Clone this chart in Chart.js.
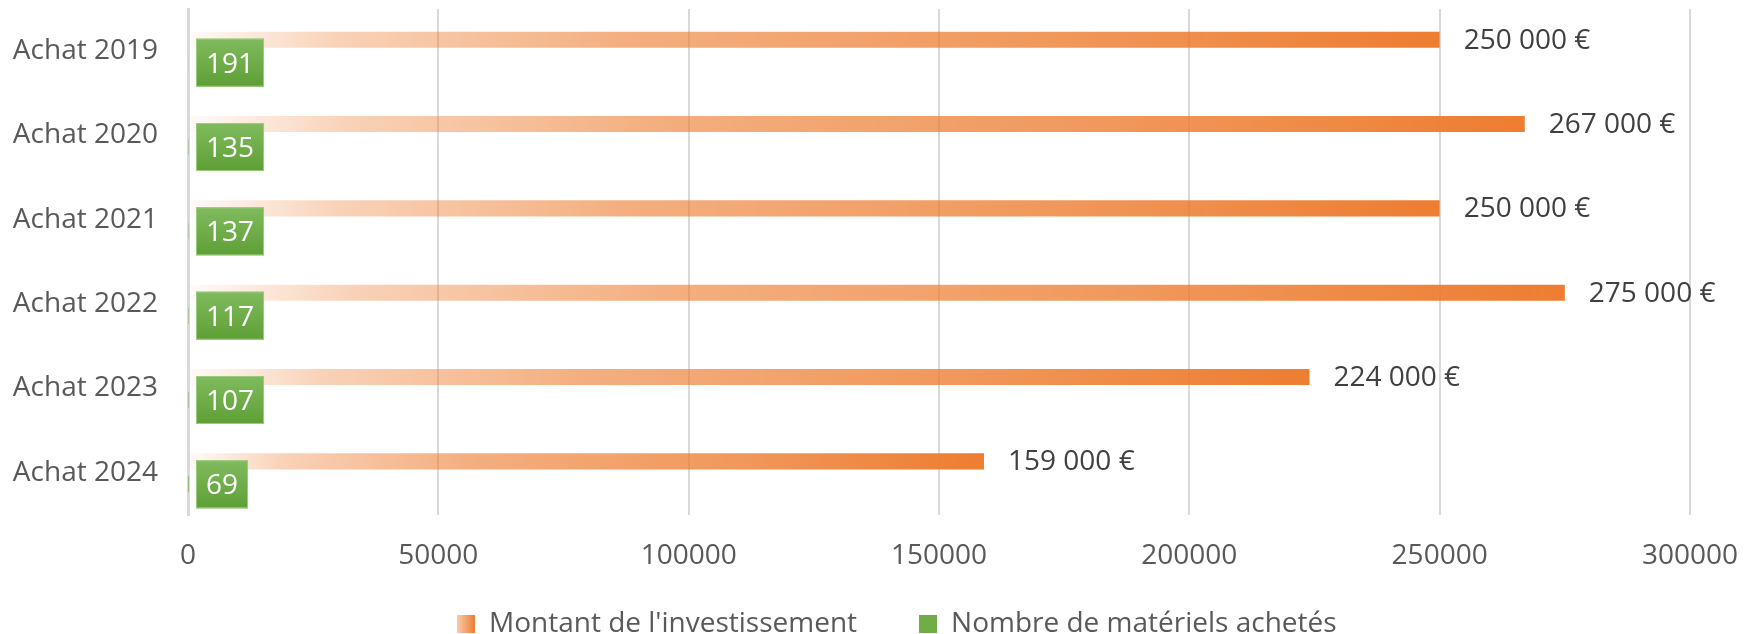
<!DOCTYPE html>
<html>
<head>
<meta charset="utf-8">
<script src="https://cdn.jsdelivr.net/npm/chart.js@4"></script>
<style>
  html, body { margin: 0; padding: 0; background: #fff; }
  #wrap { width: 1762px; height: 634px; }
</style>
</head>
<body>
<div id="wrap"><canvas id="chart" width="1762" height="634"></canvas></div>
<script>
// ===== DATA =====
const categories = ['Achat 2019', 'Achat 2020', 'Achat 2021', 'Achat 2022', 'Achat 2023', 'Achat 2024'];
const montants = [250000, 267000, 250000, 275000, 224000, 159000];
const materiels = [191, 135, 137, 117, 107, 69];
const xTicks = [0, 50000, 100000, 150000, 200000, 250000, 300000];
const seriesNames = ["Montant de l'investissement", 'Nombre de matériels achetés'];

const FONT = "'Open Sans', 'Noto Sans', sans-serif";
const ORANGE = '#ED7D31';
const GREEN = '#70AD47';
const LEGEND_PAD = 62;

// "250 000 €"
function formatEuro(v) {
  return String(v).replace(/\B(?=(\d{3})+(?!\d))/g, ' ') + ' €';
}

// per-bar gradient, fading in from the axis
function orangeFill(context) {
  const chart = context.chart;
  if (context.type !== 'data' || !chart.chartArea) return '#F2A474';
  const xs = chart.scales.x;
  const x0 = xs.getPixelForValue(0);
  const x1 = xs.getPixelForValue(context.raw);
  const g = chart.ctx.createLinearGradient(x0, 0, x1, 0);
  g.addColorStop(0, 'rgba(237,125,49,0.03)');
  g.addColorStop(0.12, 'rgba(237,125,49,0.35)');
  g.addColorStop(0.35, 'rgba(237,125,49,0.62)');
  g.addColorStop(0.7, 'rgba(237,125,49,0.8)');
  g.addColorStop(1, 'rgba(237,125,49,1)');
  return g;
}

// ===== LABELS PLUGIN =====
const labelsPlugin = {
  id: 'barLabels',
  beforeLayout(chart) {
    // keep the legend box short so the plot keeps its height
    const lg = chart.legend;
    if (lg && !lg._shortFit) {
      const fit = lg.fit;
      lg.fit = function() { fit.call(this); this.height = 59; };
      lg._shortFit = true;
    }
  },
  beforeDraw(chart) {
    const lg = chart.legend;
    if (!lg || !lg.legendItems) return;
    // place the legend row like the original
    lg.left = 457 - LEGEND_PAD;
    lg.top = 610 - LEGEND_PAD;
    const x0 = lg.left + LEGEND_PAD;
    const g = chart.ctx.createLinearGradient(x0, 0, x0 + 18, 0);
    g.addColorStop(0, '#F8CBAD');
    g.addColorStop(1, ORANGE);
    lg.legendItems[0].fillStyle = g;
  },
  afterDatasetsDraw(chart) {
    const ctx = chart.ctx;
    const xs = chart.scales.x;
    ctx.save();
    ctx.font = '28px ' + FONT;
    ctx.textBaseline = 'middle';

    // amounts at bar end
    chart.getDatasetMeta(0).data.forEach((bar, i) => {
      ctx.fillStyle = '#404040';
      ctx.textAlign = 'left';
      ctx.fillText(formatEuro(montants[i]), bar.x + 24, bar.y + 1);
    });

    // green boxed counts at the base
    chart.getDatasetMeta(1).data.forEach((bar, i) => {
      const txt = String(materiels[i]);
      const w = ctx.measureText(txt).width + 20;
      const h = 48;
      const left = xs.getPixelForValue(0) + 8;
      const top = bar.y - h / 2;
      const g = ctx.createLinearGradient(0, top, 0, top + h);
      g.addColorStop(0, '#80BB5E');
      g.addColorStop(1, '#5E9F35');
      ctx.fillStyle = g;
      ctx.fillRect(left, top, w, h);
      ctx.strokeStyle = '#9CCB7E';
      ctx.lineWidth = 1;
      ctx.strokeRect(left + 0.5, top + 0.5, w - 1, h - 1);
      ctx.fillStyle = '#FFFFFF';
      ctx.textAlign = 'center';
      ctx.fillText(txt, left + w / 2, bar.y + 2);
    });
    ctx.restore();
  }
};

// ===== CHART =====
new Chart(document.getElementById('chart'), {
  type: 'bar',
  data: {
    labels: categories,
    datasets: [
      {
        label: seriesNames[0],
        data: montants,
        backgroundColor: orangeFill,
        borderWidth: 0,
        categoryPercentage: 0.545,
        barPercentage: 0.7,
      },
      {
        label: seriesNames[1],
        data: materiels,
        backgroundColor: GREEN,
        borderWidth: 0,
        categoryPercentage: 0.545,
        barPercentage: 0.7,
      },
    ],
  },
  options: {
    indexAxis: 'y',
    responsive: false,
    animation: false,
    events: [],
    layout: { padding: { top: 9, right: 65, bottom: 0, left: 0 } },
    scales: {
      x: {
        min: 0,
        max: 300000,
        afterBuildTicks: s => { s.ticks = xTicks.map(v => ({ value: v })); },
        afterFit: s => { s.height = 60; },
        ticks: {
          callback: v => String(v),
          color: '#595959',
          font: { family: FONT, size: 28 },
          padding: 24,
          maxRotation: 0,
        },
        grid: { color: '#D9D9D9', lineWidth: 2, drawTicks: false },
        border: { display: false },
      },
      y: {
        afterFit: s => { s.width = 188; s.paddingTop = 0; s.paddingBottom = 0; },
        ticks: {
          color: '#595959',
          font: { family: FONT, size: 28 },
          padding: 30,
        },
        grid: { display: false, drawTicks: false },
        border: { display: true, color: '#D9D9D9', width: 3 },
      },
    },
    plugins: {
      legend: {
        position: 'bottom',
        align: 'start',
        labels: {
          color: '#595959',
          font: { family: FONT, size: 28 },
          boxWidth: 18,
          boxHeight: 18,
          padding: LEGEND_PAD,
        },
      },
      tooltip: { enabled: false },
    },
  },
  plugins: [labelsPlugin],
});
</script>
</body>
</html>
